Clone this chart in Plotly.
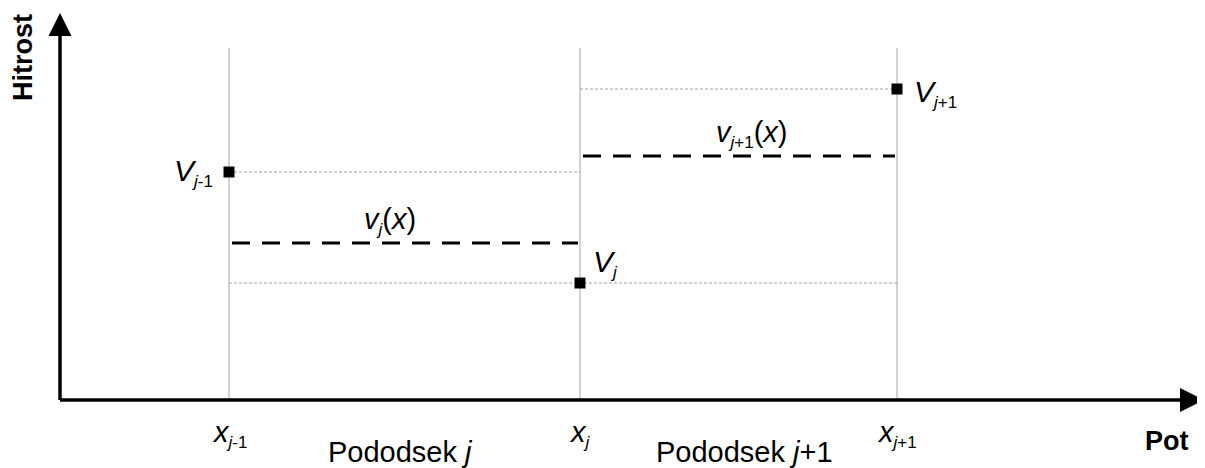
"""Diagram: piecewise-constant velocity over sub-segments (Hitrost vs Pot)."""

import plotly.graph_objects as go

# node positions along the path and velocities at the nodes (diagram units)
node_x = [169, 520, 837]
node_v = [228, 117, 311]
SUB = '<sub><span style="font-size:17px">{}</span></sub>'
node_labels = [
    "<i>V</i>" + SUB.format("<i>j</i>-1"),
    "<i>V</i>" + SUB.format("<i>j</i>"),
    "<i>V</i>" + SUB.format("<i>j</i>+1"),
]
tick_labels = [
    "<i>x</i>" + SUB.format("<i>j</i>-1"),
    "<i>x</i>" + SUB.format("<i>j</i>"),
    "<i>x</i>" + SUB.format("<i>j</i>+1"),
]

# mean velocity in each sub-segment
seg_v = [157, 244]
seg_labels = [
    "<i>v</i>" + SUB.format("<i>j</i>") + "(<i>x</i>)",
    "<i>v</i>" + SUB.format("<i>j</i>+1") + "(<i>x</i>)",
]
seg_names = ["Pododsek <i>j</i>", "Pododsek <i>j</i>+1"]

top = 352
x_end = 1144
y_end = 387

FONT = "Liberation Sans, Arial, sans-serif"
BLACK = "black"

fig = go.Figure()

# thin grey verticals at the nodes
for x in node_x:
    fig.add_shape(type="line", x0=x, x1=x, y0=0, y1=top, layer="below",
                  line=dict(color="#a6a6a6", width=1))

# dotted guides from each node value across the neighbouring segments
guides = [(node_x[0], node_x[1], node_v[0]),
          (node_x[0], node_x[2], node_v[1]),
          (node_x[1], node_x[2], node_v[2])]
for x0, x1, y in guides:
    fig.add_shape(type="line", x0=x0, x1=x1, y0=y, y1=y, layer="below",
                  line=dict(color="#a0a0a0", width=1, dash="3px,2px"))

# dashed segment velocities
for i, v in enumerate(seg_v):
    fig.add_trace(go.Scatter(
        x=[node_x[i] + 3, node_x[i + 1] - 2], y=[v, v], mode="lines",
        line=dict(color=BLACK, width=3, dash="18px,12px"),
        hoverinfo="skip", showlegend=False))

# axes with arrow heads
fig.add_shape(type="line", x0=0, x1=x_end - 12, y0=0, y1=0,
              line=dict(color=BLACK, width=3.5))
fig.add_shape(type="line", x0=0, x1=0, y0=0, y1=y_end - 12,
              line=dict(color=BLACK, width=3.5))
fig.add_trace(go.Scatter(x=[x_end], y=[0], mode="markers", cliponaxis=False,
                         marker=dict(symbol="arrow-right", size=24, color=BLACK,
                                     line=dict(width=0)),
                         hoverinfo="skip", showlegend=False))
fig.add_trace(go.Scatter(x=[0], y=[y_end], mode="markers", cliponaxis=False,
                         marker=dict(symbol="arrow-up", size=23, color=BLACK,
                                     line=dict(width=0)),
                         hoverinfo="skip", showlegend=False))

# node markers
fig.add_trace(go.Scatter(x=node_x, y=node_v, mode="markers",
                         marker=dict(symbol="square", size=11, color=BLACK,
                                     line=dict(width=0)),
                         hoverinfo="skip", showlegend=False))

# node labels
label_pos = [(-14, 0, "right"), (11, 20, "left"), (15, -4, "left")]
for x, v, txt, (dx, dy, anchor) in zip(node_x, node_v, node_labels, label_pos):
    fig.add_annotation(x=x, y=v, text=txt, showarrow=False, xanchor=anchor,
                       xshift=dx, yshift=dy, font=dict(size=30, color=BLACK))

# segment labels
seg_shift = [(-15, 22), (13, 22)]
for i, v in enumerate(seg_v):
    mid = (node_x[i] + node_x[i + 1]) / 2
    dx, dy = seg_shift[i]
    fig.add_annotation(x=mid, y=v, text=seg_labels[i], showarrow=False,
                       xshift=dx, yshift=dy, font=dict(size=29, color=BLACK))
    fig.add_annotation(x=mid, y=0, text=seg_names[i], showarrow=False,
                       xshift=-4 if i == 0 else 6, yshift=-52,
                       font=dict(size=29, color=BLACK))

# tick labels at nodes
for x, txt in zip(node_x, tick_labels):
    fig.add_annotation(x=x, y=0, text=txt, showarrow=False,
                       yshift=-34, font=dict(size=29, color=BLACK))

# axis titles
fig.add_annotation(x=x_end, y=0, text="<b>Pot</b>", showarrow=False,
                   xshift=-37, yshift=-41, font=dict(size=27, color=BLACK))
fig.add_annotation(x=0, y=y_end, text="<b>Hitrost</b>", showarrow=False,
                   textangle=-90, xshift=-37, yshift=-45,
                   font=dict(size=27, color=BLACK))

# page body has an 8px margin, so the figure is 8px smaller than the window
fig.update_xaxes(range=[-52, 1145], visible=False, fixedrange=True)
fig.update_yaxes(range=[-68, 392], visible=False, fixedrange=True)
fig.update_layout(
    width=1197, height=460,
    margin=dict(l=0, r=0, t=0, b=0),
    plot_bgcolor="white", paper_bgcolor="white",
    font=dict(family=FONT, color=BLACK),
    showlegend=False,
)

fig.write_html("out.html")
